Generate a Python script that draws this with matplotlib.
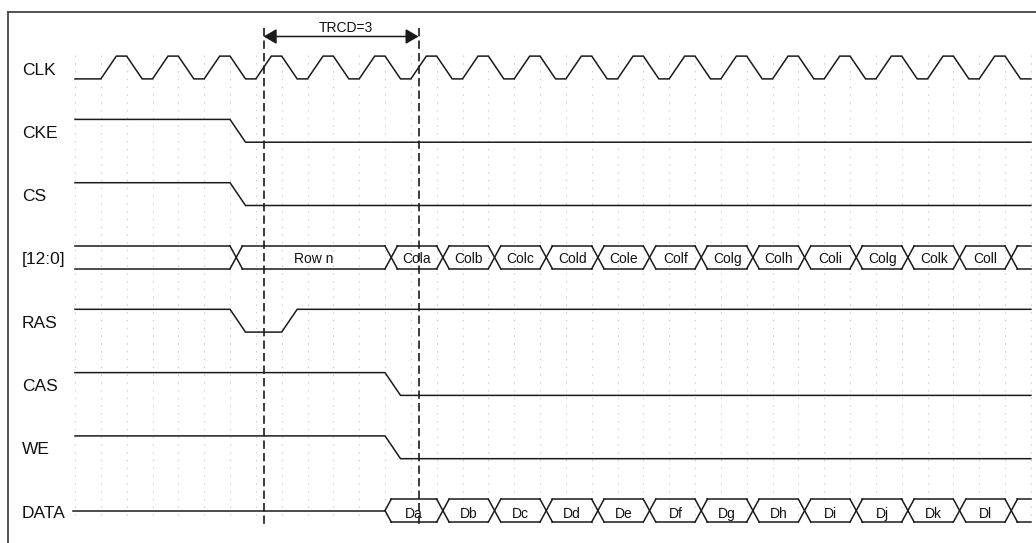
import numpy as np
import matplotlib
matplotlib.use("Agg")
import matplotlib.pyplot as plt
from matplotlib.lines import Line2D

plt.rcParams['font.family'] = ['Liberation Sans', 'DejaVu Sans']
plt.rcParams['lines.scale_dashes'] = False

# signal names, top to bottom
signal_names = ["CLK", "CKE", "CS", "[12:0]", "RAS", "CAS", "WE", "DATA"]

# clock edges, in clock periods
clk_rise = [0.5, 1.5, 2.5, 3.5, 4.5, 5.5, 6.5, 7.5, 8.5, 9.5,
            10.5, 11.5, 12.5, 13.5, 14.5, 15.5, 16.5, 17.5]
clk_fall = [1.0, 2.0, 3.0, 4.0, 5.0, 6.0, 7.0, 8.0, 9.0, 10.0,
            11.0, 12.0, 13.0, 14.0, 15.0, 16.0, 17.0, 18.0]

# control lines: (time, new level), all start high
cke_edges = [(3.0, 0)]
cs_edges = [(3.0, 0)]
ras_edges = [(3.0, 0), (4.0, 1)]
cas_edges = [(6.0, 0)]
we_edges = [(6.0, 0)]

# address bus
addr_cross = [3, 6, 7, 8, 9, 10, 11, 12, 13, 14, 15, 16, 17, 18]
addr_labels = ["", "Row n", "Cola", "Colb", "Colc", "Cold", "Cole", "Colf",
               "Colg", "Colh", "Coli", "Colg", "Colk", "Coll", ""]

# data bus
data_start = 6
data_cross = [7, 8, 9, 10, 11, 12, 13, 14, 15, 16, 17, 18]
data_labels = ["Da", "Db", "Dc", "Dd", "De", "Df", "Dg", "Dh", "Di", "Dj",
               "Dk", "Dl", ""]

t_end = 18.5
trcd_start, trcd_end = 3.65, 6.65
trcd_text = "TRCD=3"

# layout (pixels of the 1036x543 picture)
W, H = 1036, 543
X0, PX_T = 75, 51.67       # t=0 position and pixels per clock period
Y0, PX_ROW = 67.5, 63.3    # first row centre and row pitch
AMP = 0.18                 # half swing of a signal, in rows
SLEW = 0.3
XW = 0.24                  # bus crossing width
LC = '#1a1a1a'
LW = 1.1


def px_t(x):
    return (x - X0) / PX_T


def px_row(y):
    return (y - Y0) / PX_ROW


def level_wave(start, edges):
    ts, ys = [0], [start]
    lvl = start
    for t, new in edges:
        ts += [t, t + SLEW]
        ys += [lvl, new]
        lvl = new
    ts.append(t_end)
    ys.append(lvl)
    return ts, ys


def draw_level(ax, row, start, edges):
    ts, ys = level_wave(start, edges)
    yy = [row + AMP if v == 0 else row - AMP for v in ys]
    ax.plot(ts, yy, color=LC, lw=LW, solid_joinstyle='miter')


def draw_bus(ax, row, first, crosses, labels, size=10, dy=0.03):
    top, bot = row - AMP, row + AMP
    starts = [first] + [c + XW for c in crosses]
    ends = list(crosses) + [t_end]
    for s, e, lab in zip(starts, ends, labels):
        ax.plot([s, e], [top, top], color=LC, lw=LW)
        ax.plot([s, e], [bot, bot], color=LC, lw=LW)
        if lab:
            ax.text((s + e) / 2, row + dy, lab, ha='center', va='center',
                    fontsize=size, color='#111111')
    for c in crosses:
        ax.plot([c, c + XW], [top, bot], color=LC, lw=LW)
        ax.plot([c, c + XW], [bot, top], color=LC, lw=LW)


fig = plt.figure(figsize=(W / 100, H / 100), dpi=100)
ax = fig.add_axes([0, 0, 1, 1])
ax.set_xlim(px_t(0), px_t(W))
ax.set_ylim(px_row(H), px_row(0))
ax.axis('off')

# dotted grid
grid_t = np.arange(0, t_end + 0.01, 0.5)
ax.vlines(grid_t, px_row(55), px_row(518), colors='#cccccc', lw=0.8,
          linestyles=[(0, (1, 4.6))], zorder=0)

# frame (open to the right and bottom)
fig.add_artist(Line2D([8 / W, 8 / W], [0, 1 - 12 / H], color='#444444', lw=1.3,
                      transform=fig.transFigure))
fig.add_artist(Line2D([8 / W, 1], [1 - 12 / H, 1 - 12 / H], color='#444444', lw=1.3,
                      transform=fig.transFigure))

# signal names
for i, name in enumerate(signal_names):
    ax.text(px_t(22), i + 0.04, name, ha='left', va='center', fontsize=12.5,
            color='#111111')

# clock
clk_edges = sorted([(t, 1) for t in clk_rise] + [(t, 0) for t in clk_fall])
draw_level(ax, 0, 0, clk_edges)

draw_level(ax, 1, 1, cke_edges)
draw_level(ax, 2, 1, cs_edges)
draw_bus(ax, 3, 0, addr_cross, addr_labels)
draw_level(ax, 4, 1, ras_edges)
draw_level(ax, 5, 1, cas_edges)
draw_level(ax, 6, 1, we_edges)

# data: idle line, then opening into the bus
ax.plot([px_t(73), data_start], [7, 7], color=LC, lw=LW)
ax.plot([data_start, data_start + XW / 2], [7, 7 - AMP], color=LC, lw=LW)
ax.plot([data_start, data_start + XW / 2], [7, 7 + AMP], color=LC, lw=LW)
draw_bus(ax, 7, data_start + XW / 2, data_cross, data_labels, dy=0.06)

# TRCD markers
for t in (trcd_start, trcd_end):
    ax.plot([t, t], [px_row(28), px_row(525)], color=LC, lw=1.2,
            linestyle=(0, (6, 3)))
ya = px_row(36.5)
ax.annotate('', xy=(trcd_end, ya), xytext=(trcd_start, ya),
            arrowprops=dict(arrowstyle='<|-|>,head_length=0.6,head_width=0.35',
                            color=LC, lw=1.1, mutation_scale=13,
                            shrinkA=0, shrinkB=0))
ax.text((trcd_start + trcd_end) / 2 + 0.1, px_row(28), trcd_text,
        ha='center', va='center', fontsize=10, color='#111111')

fig.savefig("out.png", dpi=100)
